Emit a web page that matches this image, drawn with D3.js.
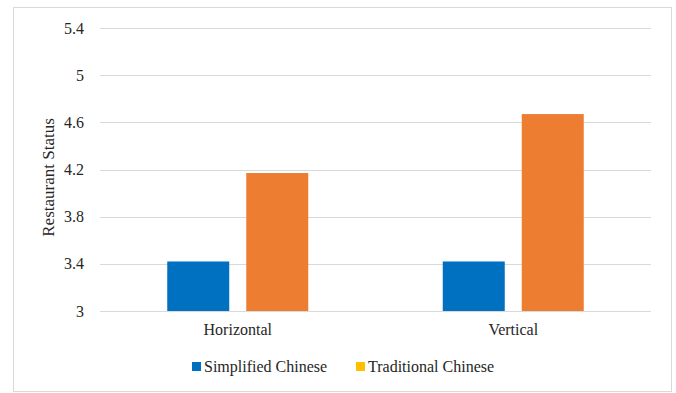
<!DOCTYPE html>
<html><head><meta charset="utf-8">
<script src="https://cdn.jsdelivr.net/npm/d3@7"></script>
<style>body{margin:0;background:#fff}svg{display:block}</style>
</head><body>
<script>
const categories = ["Horizontal", "Vertical"];
const seriesNames = ["Simplified Chinese", "Traditional Chinese"];
const simplified = [3.42, 3.42];
const traditional = [4.17, 4.67];
const yTicks = [3, 3.4, 3.8, 4.2, 4.6, 5, 5.4];
const barColors = ["#0070C0", "#ED7D31"];
const legendColors = ["#0070C0", "#FFC000"];

(function () {
const W = 676, H = 393;
const svg = d3.select("body").append("svg").attr("width", W).attr("height", H)
  .style("font-family", "\"Times New Roman\", Times, Tinos, \"Noto Serif\", \"Nimbus Roman\", FreeSerif, \"Liberation Serif\", \"DejaVu Serif\", serif");

svg.append("rect").attr("x", 13.5).attr("y", 7.5).attr("width", 658).attr("height", 384)
  .attr("fill", "#fff").attr("stroke", "#D9D9D9").attr("stroke-width", 1);

const pLeft = 100, pRight = 651, pTop = 28, pBottom = 311;
const y = d3.scaleLinear().domain([3, 5.4]).range([pBottom, pTop]);
const x0 = d3.scaleBand().domain(categories).range([pLeft, pRight]).paddingInner(0).paddingOuter(0);

// gridlines
svg.append("g").selectAll("line").data(yTicks).join("line")
  .attr("x1", pLeft).attr("x2", pRight)
  .attr("y1", d => Math.round(y(d)) + 0.5).attr("y2", d => Math.round(y(d)) + 0.5)
  .attr("stroke", "#D9D9D9").attr("stroke-width", 1);

// y axis labels
const yAxis = d3.axisLeft(y).tickValues(yTicks).tickSize(0).tickPadding(0).tickFormat(d => String(d));
const ya = svg.append("g").attr("transform", `translate(84,0)`).call(yAxis);
ya.attr("font-family", null).attr("font-size", null);
ya.select(".domain").remove();
ya.selectAll("text").style("font-size", "16px").attr("fill", "#262626");

// bars
const barW = 62, gap = 17;
const g = svg.append("g");
categories.forEach((c, i) => {
  const vals = [simplified[i], traditional[i]];
  const cx = x0(c) + x0.bandwidth() / 2;
  vals.forEach((v, j) => {
    const bx = cx - (barW * 2 + gap) / 2 + j * (barW + gap);
    g.append("rect").attr("x", bx).attr("width", barW)
      .attr("y", y(v)).attr("height", y(3) - y(v))
      .attr("fill", barColors[j]);
  });
});

// x axis labels
const xAxis = d3.axisBottom(x0).tickSize(0).tickPadding(0);
const xa = svg.append("g").attr("transform", `translate(0,${pBottom + 13})`).call(xAxis);
xa.attr("font-family", null).attr("font-size", null);
xa.select(".domain").remove();
xa.selectAll("text").style("font-size", "16px").attr("fill", "#262626");

// y title
svg.append("text").attr("transform", `translate(54,${(pTop + pBottom) / 2 + 8}) rotate(-90)`)
  .attr("text-anchor", "middle").style("font-size", "17px").attr("fill", "#262626")
  .text("Restaurant Status");

// legend
const legX = [192, 356];
seriesNames.forEach((s, i) => {
  svg.append("rect").attr("x", legX[i]).attr("y", 362).attr("width", 9).attr("height", 9).attr("fill", legendColors[i]);
  svg.append("text").attr("x", legX[i] + 12).attr("y", 372).style("font-size", "16px")
    .attr("fill", "#262626").text(s);
});
})();
</script>
</body></html>
